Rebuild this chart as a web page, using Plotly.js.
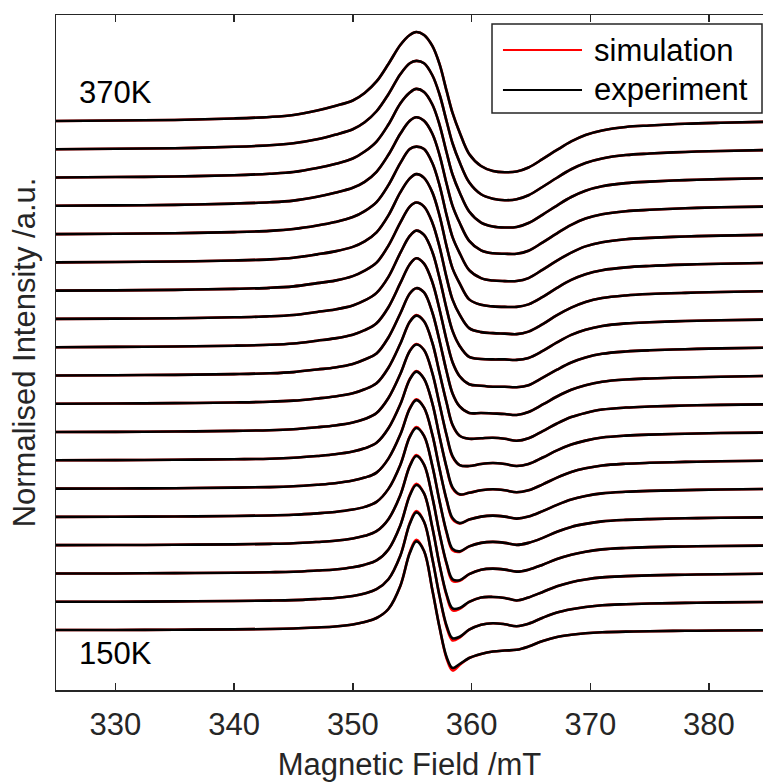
<!DOCTYPE html>
<html>
<head>
<meta charset="utf-8">
<script src="https://cdn.plot.ly/plotly-3.0.1.min.js"></script>
<style>html,body{margin:0;padding:0;background:#fff;}#chart{width:763px;height:783px;}</style>
</head>
<body>
<div id="chart"></div>
<script>
// Magnetic field sample points (mT)
const field = [325, 330, 335, 340, 343, 345, 347, 348.5, 350, 351, 352, 353, 354, 354.8, 355.35, 356, 356.7, 357.3, 357.9, 358.4, 359, 359.8, 360.8, 361.8, 362.8, 363.8, 364.8, 366, 367.2, 368.4, 369.6, 371, 373, 375, 378, 381, 385];

// Experimental spectra (arbitrary units, peak ~ 88), bottom (150 K) to top (370 K)
const exp01 = [0, 0, 0.3, 0.6, 1, 1.5, 2.5, 3.5, 5.5, 8, 12, 21, 44, 77, 88.6, 79, 40, 3, -27, -38, -34, -28, -24, -21.5, -20.5, -19.8, -16.5, -11, -7, -4.8, -3.3, -2.3, -1.6, -1.2, -0.8, -0.5, -0.3];
const exp02 = [0, 0, 0.3, 0.7, 1.1, 1.6, 2.7, 3.7, 5.8, 8.3, 12.5, 22.5, 46, 78, 89.3, 80, 43, 6, -24, -36.5, -35, -28, -23, -21.5, -22.5, -24.5, -22, -16, -10.8, -7.5, -5.3, -3.5, -2.5, -1.8, -1.2, -0.7, -0.3];
const exp03 = [0, 0, 0.3, 0.7, 1.2, 1.7, 2.9, 4, 6.2, 8.8, 13, 24, 48, 78, 88.5, 80, 46, 9, -21, -35, -34.5, -28.5, -24, -23.5, -24.5, -27, -24, -18.5, -12.8, -8.7, -6, -3.9, -2.7, -1.9, -1.3, -0.8, -0.3];
const exp04 = [0, 0.1, 0.4, 0.8, 1.3, 1.9, 3.2, 4.4, 6.7, 9.3, 14, 26, 50, 79, 89.1, 80.5, 48, 12, -18, -34, -35, -29, -24.5, -23.5, -24.5, -26.5, -24.5, -19.5, -13.8, -9.5, -6.5, -4.2, -2.8, -2, -1.3, -0.8, -0.4];
const exp05 = [0, 0.1, 0.4, 0.9, 1.4, 2.1, 3.5, 4.9, 7.3, 10, 15, 28, 52, 80, 88.9, 81, 51, 16, -15, -32, -34.5, -29.5, -26, -25, -26, -28, -26, -21, -14.8, -10, -7, -4.5, -3, -2.2, -1.4, -0.9, -0.4];
const exp06 = [0, 0.1, 0.4, 1, 1.5, 2.3, 3.9, 5.4, 8, 11, 16, 30, 54, 80, 88.5, 81, 54, 20, -11, -29.5, -34.5, -31, -28, -27, -28, -30, -28, -22.5, -16.3, -11, -7.5, -4.8, -3.2, -2.3, -1.5, -0.9, -0.4];
const exp07 = [0, 0.2, 0.5, 1.1, 1.6, 2.5, 4.3, 6, 8.8, 12, 17.5, 32, 56, 81, 88.7, 81.5, 57, 24, -7, -27, -34, -32.5, -30, -29, -30, -32, -30, -24, -17.3, -11.7, -8, -5.1, -3.4, -2.5, -1.6, -1, -0.4];
const exp08 = [0, 0.2, 0.5, 1.2, 1.8, 2.8, 4.8, 6.6, 9.5, 13, 19, 34, 58, 81, 87.5, 82, 59, 28, -3, -24, -33, -34, -32, -31, -32, -34, -32, -25.5, -18.3, -12.5, -8.6, -5.5, -3.6, -2.6, -1.7, -1, -0.5];
const exp09 = [0, 0.2, 0.6, 1.3, 2, 3.1, 5.3, 7.3, 10.5, 14.5, 20.5, 36, 60, 82, 88.1, 82.5, 61, 31, 1, -21, -32, -35, -34.5, -34, -35, -37, -34.5, -27.3, -19.7, -13.3, -9.2, -5.8, -3.8, -2.8, -1.8, -1.1, -0.5];
const exp10 = [0, 0.3, 0.6, 1.4, 2.2, 3.4, 6, 8, 11.5, 16, 22, 38, 62, 82, 87.3, 83, 63, 35, 4, -18, -31, -37.5, -37.5, -38, -38.5, -39.5, -36.5, -29, -21, -14.3, -9.7, -6.2, -4, -3, -2, -1.2, -0.5];
const exp11 = [0, 0.3, 0.7, 1.5, 2.4, 3.7, 6.5, 8.8, 12.5, 17, 24, 40, 64, 83, 89, 83.5, 65, 38, 7, -15, -29, -37, -38.5, -39.5, -39.5, -40, -38, -30.5, -22.5, -15.3, -10.3, -6.6, -4.3, -3.1, -2, -1.2, -0.5];
const exp12 = [0, 0.3, 0.7, 1.6, 2.6, 4, 7, 9.5, 13.5, 18.5, 26, 42, 66, 83, 88.3, 84, 67, 41, 10, -12, -27, -38, -40, -40.5, -40.5, -41, -39, -32, -23.5, -16, -10.8, -7, -4.5, -3.3, -2.1, -1.3, -0.6];
const exp13 = [0, 0.3, 0.8, 1.8, 2.8, 4.3, 7.5, 10, 14.5, 20, 28, 45, 68, 84, 88.1, 84, 68, 44, 13, -9, -24, -37.5, -41.5, -42.5, -43, -43.5, -41, -33.5, -24.5, -17, -11.3, -7.4, -4.8, -3.4, -2.2, -1.3, -0.6];
const exp14 = [0, 0.4, 0.8, 1.9, 3, 4.6, 8, 11, 15.5, 21, 30, 47, 70, 84, 88.2, 84.5, 70, 47, 16, -6, -21, -37, -42.5, -44, -44.5, -44.5, -42, -34.5, -25.5, -17.5, -11.8, -7.8, -5, -3.6, -2.3, -1.4, -0.6];
const exp15 = [0, 0.4, 0.9, 2, 3.2, 5, 8.5, 12, 17, 23, 32, 49, 71, 85, 87.5, 85, 71, 49, 19, -3, -19, -36, -44, -46.5, -47, -47, -44, -35.5, -26.5, -18.5, -12.3, -8.2, -5.2, -3.8, -2.4, -1.5, -0.7];
const exp16 = [0, 0.4, 0.9, 2.2, 3.5, 5.2, 9, 13, 18, 24, 34, 51, 72, 85, 88.6, 85, 72, 51, 22, 0, -17, -35, -44.5, -47.5, -48, -48, -45, -36.5, -27.5, -19, -12.8, -8.5, -5.4, -4, -2.5, -1.5, -0.7];
const exp17 = [0, 0.5, 1, 2.3, 3.8, 5.5, 9.5, 13.5, 19, 26, 36, 53, 74, 85, 88.6, 85.5, 73, 53, 25, 3, -15, -34, -45, -49, -50, -49.5, -45.5, -37, -28, -19.5, -13.2, -8.8, -5.6, -4.1, -2.6, -1.6, -0.7];
const exp18 = [0, 0.5, 1, 2.5, 4, 6, 10, 14.5, 20, 27, 38, 55, 75, 86, 88.4, 86, 74, 55, 28, 6, -13, -33, -45, -49.5, -51, -50, -46, -37.5, -28.5, -20, -13.7, -9.2, -5.8, -4.3, -2.7, -1.7, -0.8];
const exp19 = [0, 0.5, 1, 2.5, 4, 6, 10.5, 15, 20.5, 28, 39.5, 57, 76, 86, 89, 86, 75, 57, 30, 8, -11.5, -33, -45, -50, -51.3, -50.5, -46.5, -38, -29, -20.5, -14, -9.5, -6, -4.5, -2.8, -1.8, -0.8];

// Simulation minus experiment at 354.8, 355.35, 357.9, 358.4, 359 mT (bottom to top)
const simResidual = [
  [0.8, 1.5, -1.5, -2.5, -1], [0.7, 1.3, -1.3, -2.2, -0.8], [0.6, 1.2, -1.2, -2, -0.8],
  [0.5, 1, -1, -1.8, -0.6], [0.5, 1, -1, -1.5, -0.5], [0.4, 0.8, -0.8, -1.2, -0.4],
  [0.3, 0.6, -0.6, -1, -0.3], [0.2, 0.5, -0.5, -0.8, 0], [0, 0.5, 0, -0.5, 0],
  [0, 0, 0, 0, 0], [0, 0, 0, 0, 0], [0, 0, 0, 0, 0], [0, 0, 0, 0, 0], [0, 0, 0, 0, 0],
  [0, 0, 0, 0, 0], [0, 0, 0, 0, 0], [0, 0, 0, 0, 0], [0, 0, 0, 0, 0], [0, 0, 0, 0, 0]
];
const residualFields = [354.8, 355.35, 357.9, 358.4, 359];

const tempLabels = ['150K', '370K'];
const legendNames = ['simulation', 'experiment'];

const experiment = [exp01, exp02, exp03, exp04, exp05, exp06, exp07, exp08, exp09, exp10,
                    exp11, exp12, exp13, exp14, exp15, exp16, exp17, exp18, exp19];

const SPACING = 28.28;
const FONT = 'Liberation Sans, Arial, Helvetica, sans-serif';
const AX = '#262626';

const simTraces = [], expTraces = [];
experiment.forEach((vals, i) => {
  const off = i * SPACING;
  const sim = vals.slice();
  residualFields.forEach((b, j) => { sim[field.indexOf(b)] += simResidual[i][j]; });
  simTraces.push({
    x: field, y: sim.map(v => v + off), type: 'scatter', mode: 'lines',
    line: {color: '#ff0000', width: 2.6, shape: 'spline', smoothing: 1},
    xaxis: 'x', yaxis: 'y', showlegend: false, hoverinfo: 'skip'
  });
  expTraces.push({
    x: field, y: vals.map(v => v + off), type: 'scatter', mode: 'lines',
    line: {color: '#000000', width: 2.6, shape: 'spline', smoothing: 1},
    xaxis: 'x2', yaxis: 'y', showlegend: false, hoverinfo: 'skip'
  });
});

const xr = [325, 384.55];
const layout = {
  width: 763, height: 783,
  margin: {l: 56, r: 0, t: 15, b: 93},
  paper_bgcolor: '#ffffff', plot_bgcolor: '#ffffff',
  showlegend: false,
  font: {family: FONT, color: AX},
  xaxis: {
    range: xr, tick0: 330, dtick: 10, ticks: 'inside', ticklen: 7, tickwidth: 1.5, tickcolor: AX,
    showline: true, linecolor: AX, linewidth: 1.5, showgrid: false, zeroline: false,
    ticklabelstandoff: 6,
    tickfont: {family: FONT, size: 31, color: AX},
    title: {text: 'Magnetic Field /mT', font: {family: FONT, size: 31, color: AX}, standoff: 12}
  },
  xaxis2: {
    range: xr, overlaying: 'x', side: 'top', anchor: 'y',
    tick0: 330, dtick: 10, ticks: 'inside', ticklen: 7, tickwidth: 1.5, tickcolor: AX,
    showline: true, linecolor: AX, linewidth: 1.5, showgrid: false, zeroline: false,
    showticklabels: false
  },
  yaxis: {
    range: [-60, 615], showline: true, linecolor: AX, linewidth: 1.5,
    showticklabels: false, ticks: '', showgrid: false, zeroline: false,
    title: {text: 'Normalised Intensity /a.u.', font: {family: FONT, size: 31, color: AX}, standoff: 9}
  },
  annotations: [
    {x: 326.8, y: 538, xref: 'x', yref: 'y', text: tempLabels[1], showarrow: false,
     xanchor: 'left', yanchor: 'middle', font: {family: FONT, size: 31, color: '#000'}},
    {x: 326.8, y: -23, xref: 'x', yref: 'y', text: tempLabels[0], showarrow: false,
     xanchor: 'left', yanchor: 'middle', font: {family: FONT, size: 31, color: '#000'}},
    {x: 0.7581, y: 0.9481, xref: 'paper', yref: 'paper', text: legendNames[0], showarrow: false,
     xanchor: 'left', yanchor: 'middle', font: {family: FONT, size: 31, color: '#000'}},
    {x: 0.7581, y: 0.8889, xref: 'paper', yref: 'paper', text: legendNames[1], showarrow: false,
     xanchor: 'left', yanchor: 'middle', font: {family: FONT, size: 31, color: '#000'}}
  ],
  shapes: [
    {type: 'rect', xref: 'paper', yref: 'paper', x0: 0.6167, x1: 0.9986, y0: 0.8548, y1: 0.9867,
     line: {color: AX, width: 1.5}, fillcolor: '#ffffff', layer: 'above'},
    {type: 'line', xref: 'paper', yref: 'paper', x0: 0.6322, x1: 0.744, y0: 0.9481, y1: 0.9481,
     line: {color: '#ff0000', width: 2}, layer: 'above'},
    {type: 'line', xref: 'paper', yref: 'paper', x0: 0.6322, x1: 0.744, y0: 0.8889, y1: 0.8889,
     line: {color: '#000000', width: 2}, layer: 'above'}
  ]
};

Plotly.newPlot('chart', simTraces.concat(expTraces), layout, {staticPlot: true, displayModeBar: false});
</script>
</body>
</html>
